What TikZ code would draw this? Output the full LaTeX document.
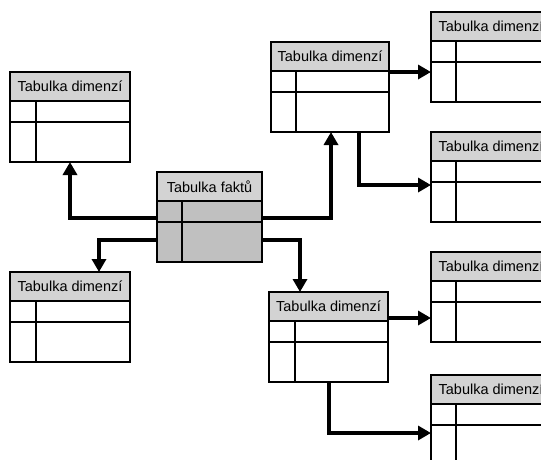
\documentclass[tikz,border=0pt]{standalone}
\usepackage{fontspec}
\setmainfont{Liberation Sans}
\usetikzlibrary{arrows.meta,calc}
\definecolor{headgray}{HTML}{D3D3D3}
\definecolor{factgray}{HTML}{C0C0C0}
\newcommand\tabfont{\fontsize{14.5}{17}\selectfont}
% one table: name, left, top, width, title, body fill, divider offset
\newcommand\tabulka[7]{%
  \node[tab, minimum width=#4pt, fill=#6] (#1) at (#2,#3) {};
  \node[head, minimum width=#4pt] (#1-h) at (#1.north west) {#5};
  \draw[tabline] ($(#1.north west)+(0,50)$) -- ($(#1.north east)+(0,50)$);
  \draw[tabline] ($(#1-h.south west)+(#7,0)$) -- ($(#1.south west)+(#7,0)$);
}
\begin{document}
\begin{tikzpicture}[x=1pt,y=-1pt,
  tab/.style={draw, line width=1.8pt, minimum height=90pt, inner sep=0pt,
    outer sep=0pt, anchor=north west},
  head/.style={draw, line width=1.8pt, minimum height=29pt, inner sep=0pt,
    outer sep=0pt, anchor=north west, fill=headgray, font=\tabfont},
  tabline/.style={line width=1.8pt},
  conn/.style={line width=3.5pt, -{Triangle[length=13pt,width=14pt]}}]
\useasboundingbox (0,0) rectangle (541,459);
\clip (0,0) rectangle (541,459);

% fact table in the middle
\tabulka{fact}{157}{172}{105}{Tabulka faktů}{factgray}{25}
% dimension tables
\tabulka{dimL1}{10}{72}{120}{Tabulka dimenzí}{white}{26}
\tabulka{dimL2}{10}{272}{120}{Tabulka dimenzí}{white}{26}
\tabulka{dimM1}{271}{42}{118}{Tabulka dimenzí}{white}{25}
\tabulka{dimM2}{269}{292}{119}{Tabulka dimenzí}{white}{26}
\tabulka{dimR1}{431}{12}{120}{Tabulka dimenzí}{white}{25}
\tabulka{dimR2}{431}{132}{120}{Tabulka dimenzí}{white}{25}
\tabulka{dimR3}{431}{252}{120}{Tabulka dimenzí}{white}{25}
\tabulka{dimR4}{431}{375}{120}{Tabulka dimenzí}{white}{25}

% connectors from the fact table
\draw[conn] ($(fact.north west)+(0,46)$) -| (dimL1.south);
\draw[conn] ($(fact.north west)+(0,68)$) -| ($(dimL2.north west)+(89,0)$);
\draw[conn] ($(fact.north east)+(0,46)$) -| ($(dimM1.south west)+(60,0)$);
\draw[conn] ($(fact.north east)+(0,68)$) -| ($(dimM2.north west)+(31,0)$);

% connectors between dimension tables
\draw[conn] ($(dimM1.north east)+(0,30)$) -- ($(dimR1.north west)+(0,60)$);
\draw[conn] ($(dimM1.south west)+(88,0)$) |- ($(dimR2.north west)+(0,53)$);
\draw[conn] ($(dimM2.north east)+(0,26)$) -- ($(dimR3.north west)+(0,66)$);
\draw[conn] ($(dimM2.south west)+(60,0)$) |- ($(dimR4.north west)+(0,58)$);
\end{tikzpicture}
\end{document}
